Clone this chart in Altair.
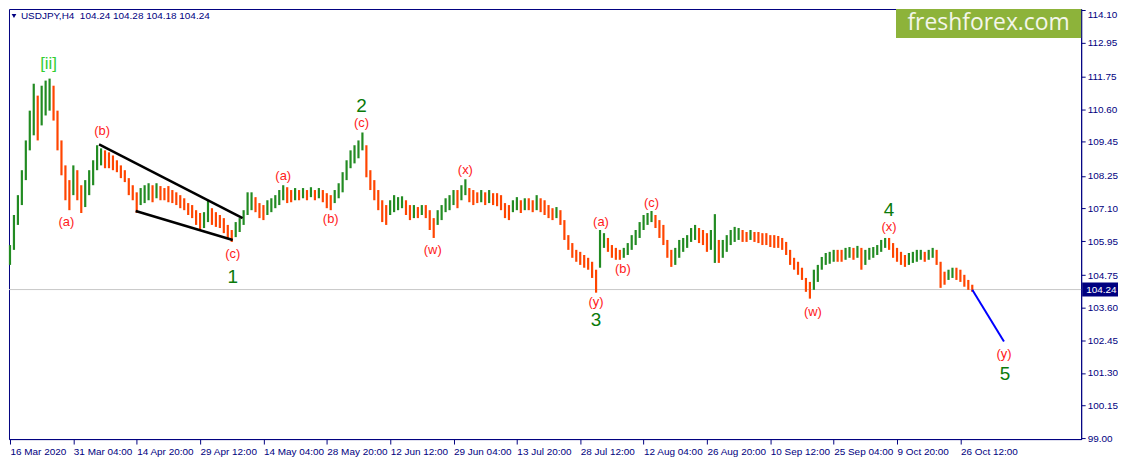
import altair as alt
import pandas as pd

# ---------------- data ----------------
x_ticks = [1, 65, 129, 193, 257, 321, 385, 449, 513, 577, 641, 705, 769, 833, 897, 961]
x_labels = ["16 Mar 2020", "31 Mar 04:00", "14 Apr 20:00", "29 Apr 12:00", "14 May 04:00",
            "28 May 20:00", "12 Jun 12:00", "29 Jun 04:00", "13 Jul 20:00", "28 Jul 12:00",
            "12 Aug 04:00", "26 Aug 20:00", "10 Sep 12:00", "25 Sep 04:00", "9 Oct 20:00",
            "26 Oct 12:00"]
y_ticks = [114.10, 112.95, 111.75, 110.60, 109.45, 108.25, 107.10, 105.95, 104.75,
           103.60, 102.45, 101.30, 100.15, 99.00]

bar_index = list(range(1, 974, 4))
high = [105.81, 106.87, 107.57, 108.45, 109.50, 110.55, 111.50, 111.08, 111.43, 111.61,
        111.68, 111.43, 110.55, 109.50, 108.62, 108.10, 108.62, 108.45, 107.92, 108.10,
        108.45, 108.80, 109.33, 109.22, 109.15, 109.08, 108.97, 108.80, 108.62, 108.45,
        108.17, 107.92, 107.67, 107.82, 107.92, 107.99, 107.92, 107.99, 107.89, 107.82,
        107.89, 107.75, 107.67, 107.57, 107.46, 107.29, 107.22, 107.04, 106.94, 106.97,
        107.39, 107.11, 106.97, 106.87, 106.76, 106.52, 106.34, 106.62, 106.76, 107.04,
        107.67, 107.67, 107.50, 107.29, 107.22, 107.39, 107.46, 107.57, 107.75, 107.92,
        107.85, 107.75, 107.82, 107.75, 107.82, 107.75, 107.85, 107.75, 107.82, 107.75,
        107.64, 107.57, 107.75, 107.99, 108.38, 108.80, 109.15, 109.33, 109.50, 109.78,
        109.33, 108.45, 108.10, 107.75, 107.39, 107.22, 107.39, 107.57, 107.50, 107.53,
        107.39, 107.22, 107.22, 107.15, 107.22, 107.22, 107.04, 106.76, 107.04, 107.22,
        107.46, 107.57, 107.75, 107.75, 107.92, 108.13, 107.82, 107.75, 107.67, 107.75,
        107.67, 107.75, 107.64, 107.64, 107.57, 107.29, 107.22, 107.39, 107.50, 107.39,
        107.46, 107.46, 107.39, 107.57, 107.46, 107.39, 107.22, 107.11, 107.15, 107.04,
        106.69, 106.16, 105.88, 105.64, 105.57, 105.46, 105.36, 105.22, 104.94, 106.34,
        106.23, 106.06, 105.81, 105.71, 105.64, 105.71, 105.88, 106.16, 106.34, 106.62,
        106.87, 106.94, 107.01, 106.87, 106.69, 106.52, 105.99, 105.64, 105.71, 105.99,
        106.06, 106.16, 106.41, 106.52, 106.41, 106.34, 106.23, 106.34, 106.90, 105.99,
        105.99, 106.16, 106.34, 106.45, 106.41, 106.34, 106.27, 106.34, 106.27, 106.27,
        106.23, 106.23, 106.16, 106.16, 106.13, 106.06, 105.92, 105.64, 105.36, 105.22,
        105.01, 104.65, 104.51, 104.94, 105.11, 105.39, 105.53, 105.57, 105.64, 105.64,
        105.64, 105.71, 105.74, 105.71, 105.78, 105.71, 105.64, 105.71, 105.74, 105.81,
        105.99, 106.06, 106.06, 105.88, 105.71, 105.57, 105.46, 105.53, 105.57, 105.64,
        105.64, 105.57, 105.64, 105.71, 105.64, 105.22, 104.87, 104.94, 105.01, 105.01,
        104.94, 104.76, 104.58, 104.41]
low = [105.11, 105.64, 106.52, 107.22, 108.10, 109.15, 109.68, 109.50, 110.03, 110.38,
       110.55, 110.20, 109.15, 108.27, 107.39, 107.04, 107.57, 107.39, 106.94, 107.15,
       107.57, 107.92, 108.45, 108.62, 108.52, 108.52, 108.45, 108.38, 108.17, 108.03,
       107.57, 107.39, 106.94, 107.22, 107.29, 107.39, 107.32, 107.46, 107.39, 107.39,
       107.32, 107.29, 107.22, 107.11, 107.04, 106.87, 106.76, 106.52, 106.34, 106.41,
       106.62, 106.52, 106.45, 106.41, 106.23, 106.06, 105.92, 106.09, 106.27, 106.52,
       106.87, 107.04, 106.97, 106.76, 106.69, 106.87, 106.97, 107.11, 107.22, 107.39,
       107.29, 107.32, 107.39, 107.39, 107.46, 107.39, 107.50, 107.39, 107.46, 107.32,
       107.11, 107.04, 107.29, 107.46, 107.67, 108.10, 108.52, 108.69, 108.87, 109.15,
       108.20, 107.75, 107.39, 107.04, 106.62, 106.52, 106.87, 106.97, 107.04, 107.11,
       106.87, 106.69, 106.76, 106.76, 106.87, 106.76, 106.34, 106.06, 106.52, 106.69,
       106.97, 107.04, 107.22, 107.11, 107.39, 107.57, 107.32, 107.22, 107.29, 107.32,
       107.22, 107.29, 107.22, 107.18, 107.04, 106.76, 106.69, 106.97, 107.04, 106.94,
       107.04, 107.04, 106.97, 107.04, 106.97, 106.87, 106.76, 106.69, 106.76, 106.52,
       105.99, 105.64, 105.36, 105.22, 105.11, 105.01, 104.94, 104.65, 104.13, 105.01,
       105.71, 105.57, 105.36, 105.29, 105.29, 105.36, 105.46, 105.64, 105.81, 106.06,
       106.34, 106.52, 106.62, 106.41, 106.06, 105.81, 105.36, 105.04, 105.11, 105.36,
       105.57, 105.71, 105.92, 105.99, 105.88, 105.81, 105.57, 105.64, 105.18, 105.18,
       105.36, 105.57, 105.81, 105.92, 105.99, 105.92, 105.92, 105.99, 105.92, 105.88,
       105.81, 105.81, 105.74, 105.71, 105.71, 105.64, 105.46, 105.11, 104.94, 104.76,
       104.58, 104.16, 103.92, 104.23, 104.51, 104.94, 105.11, 105.15, 105.22, 105.22,
       105.22, 105.29, 105.36, 105.29, 105.36, 104.94, 105.11, 105.29, 105.36, 105.46,
       105.57, 105.71, 105.64, 105.36, 105.22, 105.11, 105.04, 105.11, 105.18, 105.22,
       105.29, 105.22, 105.29, 105.36, 105.11, 104.30, 104.41, 104.58, 104.65, 104.58,
       104.51, 104.34, 104.23, 104.16]

last_price = [104.24]
header_text = ["USDJPY,H4\u00a0\u00a0104.24 104.28 104.18 104.24"]

# wedge (black trend lines)
wedge_x1 = [91, 128]
wedge_p1 = [109.36, 107.01]
wedge_x2 = [236, 226]
wedge_p2 = [106.76, 105.99]

# projection (blue)
proj_x = [973, 1005]
proj_p = [104.23, 102.41]

# wave labels
lab_x = [40, 94, 58, 226, 226, 277, 325, 356, 356, 428, 461, 598, 620, 593, 593, 649,
         889, 889, 812, 1005, 1006]
lab_p = [112.20, 109.82, 106.62, 105.50, 104.69, 108.24, 106.73, 110.10, 110.73, 105.64,
         108.45, 106.62, 104.97, 103.81, 103.15, 107.29, 107.04, 106.45, 103.46, 101.95,
         101.25]
lab_t = ["[ii]", "(b)", "(a)", "(c)", "1", "(a)", "(b)", "(c)", "2", "(w)", "(x)", "(a)",
         "(b)", "(y)", "3", "(c)", "4", "(x)", "(w)", "(y)", "5"]
lab_k = ["ii", "sub", "sub", "sub", "main", "sub", "sub", "sub", "main", "sub", "sub", "sub",
         "sub", "sub", "main", "sub", "main", "sub", "sub", "sub", "main"]

# ---------------- frames ----------------
bars_df = pd.DataFrame({"bar": bar_index, "high": high, "low": low})
mid = [(h + l) / 2 for h, l in zip(high, low)]
bars_df["dir"] = ["up" if i == 0 or mid[i] > mid[i - 1] else "down" for i in range(len(mid))]

wedge_df = pd.DataFrame({"x1": wedge_x1, "p1": wedge_p1, "x2": wedge_x2, "p2": wedge_p2})
proj_df = pd.DataFrame({"bar": proj_x, "price": proj_p})
lab_df = pd.DataFrame({"bar": lab_x, "price": lab_p, "text": lab_t, "kind": lab_k})
last_df = pd.DataFrame({"price": last_price, "label": [f"{p:.2f}" for p in last_price]})
head_df = pd.DataFrame({"t": header_text})

NAVY = "#000080"
FONT = "Liberation Sans"
XSCALE = alt.Scale(domain=[0, 1083], nice=False, zero=False)
YSCALE = alt.Scale(domain=[98.967, 114.135], nice=False, zero=False)

labels_js = "[" + ",".join(f"'{l}'" for l in x_labels) + "]"
X_AXIS = alt.Axis(values=x_ticks, labelExpr=f"{labels_js}[round((datum.value - 1) / 64)]",
                  title=None, grid=False, tickSize=5, tickColor=NAVY, domainColor=NAVY,
                  labelColor=NAVY, labelFont=FONT, labelFontSize=10, labelAlign="left",
                  labelFlush=False, labelOverlap=False, labelBound=False, labelPadding=2)
Y_AXIS = alt.Axis(orient="right", values=y_ticks, format=".2f", title=None, grid=False,
                  tickSize=4, tickColor=NAVY, domainColor=NAVY, labelColor=NAVY,
                  labelFont=FONT, labelFontSize=10, labelOverlap=False, labelFlush=False,
                  labelPadding=2,
                  labelBaseline={"condition": {"test": "datum.value > 114",
                                               "value": "top"},
                                 "value": "middle"})


def xq(field):
    return alt.X(f"{field}:Q", scale=XSCALE, axis=X_AXIS)


def yq(field):
    return alt.Y(f"{field}:Q", scale=YSCALE, axis=Y_AXIS)


price_line = alt.Chart(last_df).mark_rule(color="#c8c8c8", strokeWidth=1).encode(y=yq("price"))

bars = alt.Chart(bars_df).mark_rule(strokeWidth=2.2).encode(
    x=xq("bar"),
    y=yq("high"),
    y2="low:Q",
    color=alt.Color("dir:N", scale=alt.Scale(domain=["up", "down"],
                                             range=["#228B22", "#FF4500"]), legend=None),
)

wedge = alt.Chart(wedge_df).mark_rule(color="black", strokeWidth=2.5).encode(
    x=xq("x1"), y=yq("p1"), x2="x2:Q", y2="p2:Q")

proj = alt.Chart(proj_df).mark_line(color="#0000ff", strokeWidth=2).encode(
    x=xq("bar"), y=yq("price"))

sub_labels = alt.Chart(lab_df).transform_filter(alt.datum.kind == "sub").mark_text(
    color="#ff1a1a", font="Liberation Sans", fontSize=13, align="center", baseline="middle"
).encode(x=xq("bar"), y=yq("price"), text="text:N")

main_labels = alt.Chart(lab_df).transform_filter(alt.datum.kind == "main").mark_text(
    color="#0a7a0a", font="Liberation Sans", fontSize=19, align="center", baseline="middle"
).encode(x=xq("bar"), y=yq("price"), text="text:N")

ii_label = alt.Chart(lab_df).transform_filter(alt.datum.kind == "ii").mark_text(
    color="#32CD32", font="Liberation Sans", fontSize=17, align="center", baseline="middle"
).encode(x=xq("bar"), y=yq("price"), text="text:N")

tag_box = alt.Chart(last_df).mark_rect(color=NAVY, yOffset=-7, y2Offset=7).encode(
    x=alt.value(1078), x2=alt.value(1114), y=yq("price"), y2="price:Q")
tag_text = alt.Chart(last_df).mark_text(color="white", font=FONT, fontSize=10, align="left",
                                        baseline="middle").encode(
    x=alt.value(1082), y=yq("price"), text="label:N")

tri = alt.Chart(head_df).mark_point(shape="triangle-down", filled=True, color=NAVY, size=22,
                                    opacity=1).encode(x=alt.value(5), y=alt.value(7))
head = alt.Chart(head_df).mark_text(color=NAVY, font=FONT, fontSize=10, align="left",
                                    baseline="top").encode(
    x=alt.value(12), y=alt.value(2), text="t:N")

wm_box = alt.Chart(head_df).mark_rect(color="#8db33a").encode(
    x=alt.value(891), x2=alt.value(1077), y=alt.value(0), y2=alt.value(29))
wm_text = alt.Chart(head_df).mark_text(text="freshforex.com", color="#f4f6ea",
                                       font="Open Sans", fontSize=23, align="center",
                                       baseline="middle").encode(
    x=alt.value(984), y=alt.value(14))

chart = alt.layer(
    price_line, bars, wedge, proj, sub_labels, main_labels, ii_label,
    tag_box, tag_text, tri, head, wm_box, wm_text
).properties(
    width=1077, height=432, padding=0, background="white"
).configure_view(stroke=NAVY, strokeWidth=1)

chart.save("out.html", embed_options={"renderer": "svg", "actions": False})
